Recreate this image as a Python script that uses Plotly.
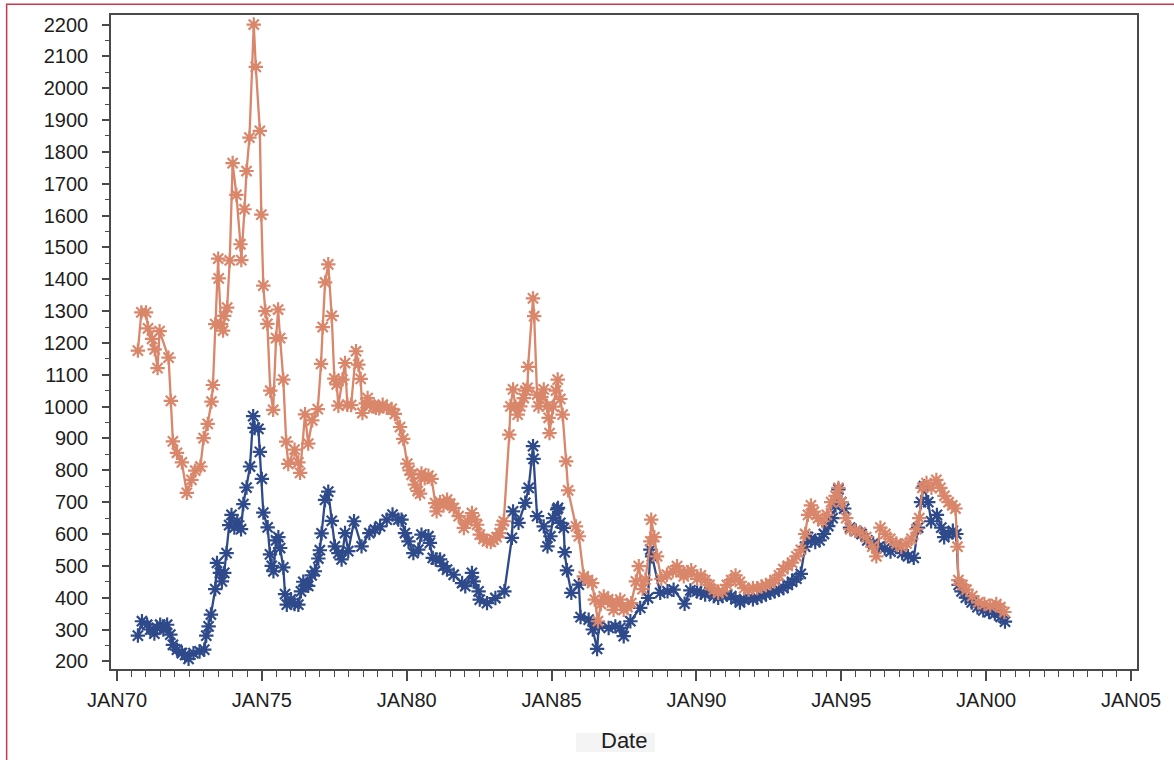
import datetime as dt
import plotly.graph_objects as go

# ---- data (decimal years, values) ----
orange_years = [
    1970.72, 1970.84, 1971.00, 1971.07, 1971.21, 1971.30, 1971.40, 1971.47, 1971.78, 1971.86,
    1971.93, 1972.07, 1972.24, 1972.41, 1972.57, 1972.70, 1972.88, 1972.99, 1973.13, 1973.26,
    1973.31, 1973.39, 1973.49, 1973.51, 1973.59, 1973.66, 1973.70, 1973.80, 1973.89, 1973.99,
    1974.12, 1974.26, 1974.29, 1974.40, 1974.47, 1974.57, 1974.72, 1974.79, 1974.93, 1974.98,
    1975.05, 1975.12, 1975.19, 1975.29, 1975.39, 1975.49, 1975.56, 1975.63, 1975.74, 1975.84,
    1975.91, 1976.13, 1976.26, 1976.32, 1976.49, 1976.60, 1976.74, 1976.93, 1977.04, 1977.10,
    1977.18, 1977.29, 1977.41, 1977.50, 1977.58, 1977.64, 1977.78, 1977.87, 1977.95, 1978.08,
    1978.25, 1978.33, 1978.41, 1978.47, 1978.58, 1978.65, 1978.75, 1978.85, 1978.94, 1979.05,
    1979.17, 1979.31, 1979.48, 1979.59, 1979.77, 1979.88, 1980.02, 1980.10, 1980.17, 1980.28,
    1980.38, 1980.46, 1980.51, 1980.62, 1980.75, 1980.86, 1980.98, 1981.03, 1981.15, 1981.27,
    1981.39, 1981.50, 1981.62, 1981.79, 1981.97, 1982.10, 1982.25, 1982.35, 1982.43, 1982.52,
    1982.65, 1982.77, 1982.90, 1983.00, 1983.10, 1983.21, 1983.29, 1983.35, 1983.54, 1983.58,
    1983.67, 1983.75, 1983.83, 1983.92, 1984.04, 1984.10, 1984.17, 1984.19, 1984.36, 1984.40,
    1984.50, 1984.55, 1984.65, 1984.73, 1984.84, 1984.90, 1984.93, 1985.05, 1985.15, 1985.21,
    1985.30, 1985.38, 1985.50, 1985.57, 1985.84, 1985.94, 1986.11, 1986.25, 1986.40, 1986.49,
    1986.60, 1986.70, 1986.80, 1986.95, 1987.09, 1987.14, 1987.25, 1987.37, 1987.49, 1987.62,
    1987.75, 1987.91, 1988.01, 1988.14, 1988.24, 1988.41, 1988.44, 1988.55, 1988.64, 1988.79,
    1988.98, 1989.18, 1989.33, 1989.45, 1989.56, 1989.70, 1989.82, 1990.02, 1990.15, 1990.30,
    1990.45, 1990.60, 1990.75, 1990.90, 1991.05, 1991.20, 1991.35, 1991.50, 1991.65, 1991.80,
    1991.95, 1992.10, 1992.25, 1992.40, 1992.55, 1992.70, 1992.85, 1993.00, 1993.15, 1993.30,
    1993.45, 1993.60, 1993.75, 1993.85, 1993.95, 1994.05, 1994.20, 1994.35, 1994.50, 1994.65,
    1994.80, 1994.90, 1995.00, 1995.17, 1995.31, 1995.48, 1995.66, 1995.86, 1996.07, 1996.21,
    1996.35, 1996.52, 1996.69, 1996.90, 1997.07, 1997.25, 1997.42, 1997.59, 1997.69, 1997.80,
    1997.94, 1998.11, 1998.28, 1998.42, 1998.56, 1998.70, 1998.83, 1998.94, 1999.01, 1999.04,
    1999.18, 1999.32, 1999.52, 1999.73, 1999.94, 2000.14, 2000.35, 2000.49, 2000.63,
]
orange_values = [
    1176, 1296, 1296, 1246, 1213, 1180, 1121, 1237, 1154, 1018,
    891, 855, 825, 729, 770, 799, 812, 901, 946, 1016,
    1068, 1259, 1465, 1403, 1259, 1239, 1285, 1311, 1459, 1765,
    1665, 1510, 1460, 1620, 1740, 1845, 2200, 2067, 1866, 1603,
    1380, 1300, 1260, 1050, 990, 1215, 1305, 1215, 1085, 890,
    820, 865, 825, 792, 976, 884, 957, 992, 1134, 1250,
    1390, 1447, 1285, 1088, 1070, 1003, 1085, 1137, 1006, 1005,
    1174, 1132, 1087, 980, 1010, 1027, 1006, 1000, 996, 995,
    1006, 996, 993, 977, 936, 899, 821, 800, 786, 755,
    735, 727, 790, 775, 783, 773, 697, 671, 700, 690,
    708, 695, 682, 656, 619, 640, 666, 645, 629, 598,
    585, 577, 575, 582, 590, 603, 629, 640, 912, 1001,
    1054, 1000, 975, 1001, 1027, 1050, 1059, 1125, 1340, 1284,
    1038, 1001, 1030, 1054, 1001, 965, 917, 1000, 1050, 1085,
    1024, 975, 828, 737, 624, 593, 467, 455, 446, 394,
    326, 380, 404, 395, 385, 362, 380, 394, 362, 370,
    383, 451, 499, 427, 457, 577, 645, 590, 530, 459,
    472, 483, 499, 480, 467, 480, 486, 459, 470, 455,
    440, 425, 415, 420, 440, 455, 470, 450, 430, 425,
    430, 430, 435, 440, 445, 455, 470, 490, 500, 510,
    530, 550, 600, 660, 690, 670, 650, 640, 660, 700,
    720, 745, 700, 650, 615, 610, 605, 590, 560, 530,
    620, 600, 585, 570, 560, 570, 585, 615, 650, 745,
    760, 745, 770, 745, 720, 700, 690, 680, 560, 455,
    440, 425, 405, 385, 380, 375, 380, 370, 355,
]

blue_years = [
    1970.72, 1970.86, 1971.04, 1971.15, 1971.29, 1971.38, 1971.49, 1971.60, 1971.73, 1971.84,
    1971.93, 1972.07, 1972.24, 1972.35, 1972.47, 1972.64, 1972.85, 1973.01, 1973.08, 1973.16,
    1973.24, 1973.39, 1973.45, 1973.55, 1973.62, 1973.70, 1973.78, 1973.87, 1973.95, 1974.05,
    1974.15, 1974.28, 1974.36, 1974.47, 1974.59, 1974.70, 1974.75, 1974.88, 1974.93, 1975.00,
    1975.05, 1975.20, 1975.28, 1975.34, 1975.40, 1975.49, 1975.57, 1975.63, 1975.74, 1975.80,
    1975.86, 1976.00, 1976.13, 1976.26, 1976.35, 1976.43, 1976.52, 1976.60, 1976.72, 1976.83,
    1976.95, 1977.00, 1977.06, 1977.18, 1977.29, 1977.41, 1977.52, 1977.64, 1977.75, 1977.87,
    1977.98, 1978.18, 1978.44, 1978.71, 1978.90, 1979.08, 1979.31, 1979.51, 1979.71, 1979.82,
    1979.94, 1980.06, 1980.23, 1980.40, 1980.51, 1980.75, 1980.80, 1980.90, 1981.00, 1981.15,
    1981.26, 1981.39, 1981.62, 1981.91, 1982.02, 1982.25, 1982.31, 1982.48, 1982.52, 1982.77,
    1983.06, 1983.37, 1983.63, 1983.67, 1983.86, 1984.09, 1984.21, 1984.36, 1984.38, 1984.50,
    1984.73, 1984.86, 1984.96, 1985.05, 1985.19, 1985.22, 1985.30, 1985.42, 1985.45, 1985.53,
    1985.68, 1985.94, 1986.00, 1986.28, 1986.42, 1986.57, 1986.63, 1986.97, 1987.20, 1987.37,
    1987.49, 1987.72, 1988.06, 1988.33, 1988.41, 1988.47, 1988.75, 1989.00, 1989.21, 1989.59,
    1989.79, 1990.02, 1990.15, 1990.30, 1990.45, 1990.60, 1990.75, 1990.90, 1991.05, 1991.20,
    1991.35, 1991.50, 1991.65, 1991.80, 1991.95, 1992.10, 1992.25, 1992.40, 1992.55, 1992.70,
    1992.85, 1993.00, 1993.15, 1993.30, 1993.45, 1993.60, 1993.75, 1993.85, 1993.95, 1994.10,
    1994.25, 1994.40, 1994.55, 1994.70, 1994.80, 1994.90, 1995.00, 1995.10, 1995.30, 1995.50,
    1995.70, 1995.90, 1996.10, 1996.30, 1996.50, 1996.70, 1996.90, 1997.10, 1997.30, 1997.50,
    1997.65, 1997.75, 1997.85, 1998.00, 1998.10, 1998.30, 1998.45, 1998.55, 1998.70, 1998.85,
    1998.97, 1999.05, 1999.15, 1999.30, 1999.50, 1999.70, 1999.90, 2000.10, 2000.30, 2000.50,
    2000.65,
]
blue_values = [
    281, 326, 315, 300, 287, 305, 315, 300, 315, 284,
    252, 237, 226, 220, 208, 226, 231, 237, 281, 310,
    347, 427, 509, 478, 451, 478, 540, 628, 660, 620,
    640, 615, 694, 746, 812, 970, 933, 930, 858, 773,
    667, 621, 536, 500, 483, 580, 590, 556, 495, 411,
    378, 395, 380, 378, 420, 450, 440, 437, 470, 483,
    523, 549, 602, 707, 733, 641, 561, 540, 520, 603,
    546, 640, 561, 603, 614, 624, 645, 661, 645, 645,
    603, 577, 540, 551, 598, 593, 572, 525, 520, 520,
    499, 488, 472, 446, 436, 478, 451, 420, 394, 383,
    399, 420, 588, 671, 635, 698, 745, 876, 836, 656,
    624, 561, 593, 650, 677, 682, 635, 619, 543, 486,
    415, 441, 339, 331, 300, 239, 310, 305, 310, 305,
    279, 326, 368, 399, 551, 530, 415, 420, 425, 381,
    423, 420, 415, 410, 420, 405, 400, 405, 410, 405,
    395, 385, 395, 400, 395, 400, 405, 410, 415, 420,
    425, 430, 440, 450, 460, 475, 560, 590, 585, 575,
    580, 600, 625, 650, 690, 740, 700, 680, 620, 610,
    600, 580, 570, 560, 555, 545, 560, 540, 530, 525,
    620, 700, 750, 700, 640, 660, 620, 590, 600, 610,
    600, 440, 420, 400, 385, 370, 360, 355, 350, 340,
    325,
]

tick_dates = ["1970-01-01", "1975-01-01", "1980-01-01", "1985-01-01",
              "1990-01-01", "1995-01-01", "2000-01-01", "2005-01-01"]
tick_labels = ["JAN70", "JAN75", "JAN80", "JAN85", "JAN90", "JAN95", "JAN00", "JAN05"]
y_ticks = list(range(200, 2201, 100))

ORANGE = "#d9866a"
BLUE = "#2f4a8a"
AXIS = "#4a4a4a"
FONT = "Liberation Sans, Arial, sans-serif"


def to_date(y):
    yr = int(y)
    return dt.datetime(yr, 1, 1) + dt.timedelta(days=(y - yr) * 365.25)


fig = go.Figure()
for yrs, vals, col, name in [(blue_years, blue_values, BLUE, "Series 1"),
                             (orange_years, orange_values, ORANGE, "Series 2")]:
    fig.add_trace(go.Scatter(
        x=[to_date(v) for v in yrs], y=vals, mode="lines+markers", name=name,
        line=dict(color=col, width=2.3),
        marker=dict(symbol="asterisk-open", size=12, color=col,
                    line=dict(color=col, width=2.2)),
        showlegend=False,
    ))

fig.update_layout(
    width=1174, height=760,
    margin=dict(l=111, r=37, t=15, b=91),
    paper_bgcolor="white", plot_bgcolor="white",
    font=dict(family=FONT, size=20, color="#1e1e1e"),
    xaxis=dict(
        type="date", range=["1969-10-17", "2005-03-17"],
        tickmode="array", tickvals=tick_dates, ticktext=tick_labels,
        ticks="outside", ticklen=10, tickwidth=1.5, tickcolor=AXIS,
        showline=True, linecolor=AXIS, linewidth=1.5, mirror=True,
        showgrid=False, zeroline=False, ticklabelstandoff=2,
        minor=dict(ticks="outside", ticklen=6, tickwidth=1.2, tickcolor=AXIS,
                   dtick="M6", tick0="1970-01-01", showgrid=False),
    ),
    yaxis=dict(
        range=[176, 2230],
        tickmode="array", tickvals=y_ticks,
        ticks="outside", ticklen=7, tickwidth=1.5, tickcolor=AXIS,
        showline=True, linecolor=AXIS, linewidth=1.5, mirror=True,
        showgrid=False, zeroline=False, ticklabelstandoff=10,
        minor=dict(ticks="outside", ticklen=4, tickwidth=1.2, tickcolor=AXIS,
                   dtick=50, tick0=0, showgrid=False),
    ),
    shapes=[
        dict(type="rect", xref="paper", yref="paper",
             x0=0.4532, x1=0.5302, y0=-0.1269, y1=-0.0979,
             fillcolor="#f4f4f4", line=dict(width=0), layer="below"),
        dict(type="rect", xref="paper", yref="paper",
             x0=-0.1017, x1=1.2, y0=-0.3, y1=1.0164,
             fillcolor="rgba(0,0,0,0)", line=dict(color="#c8394f", width=1.5)),
    ],
    annotations=[
        dict(text="Date", xref="paper", yref="paper", x=0.5, y=-0.110,
             xanchor="center", yanchor="middle", showarrow=False,
             font=dict(family=FONT, size=22, color="#1e1e1e")),
    ],
)

fig.write_html("out.html", config={"displayModeBar": False},
               post_script="document.body.style.margin='0';")
